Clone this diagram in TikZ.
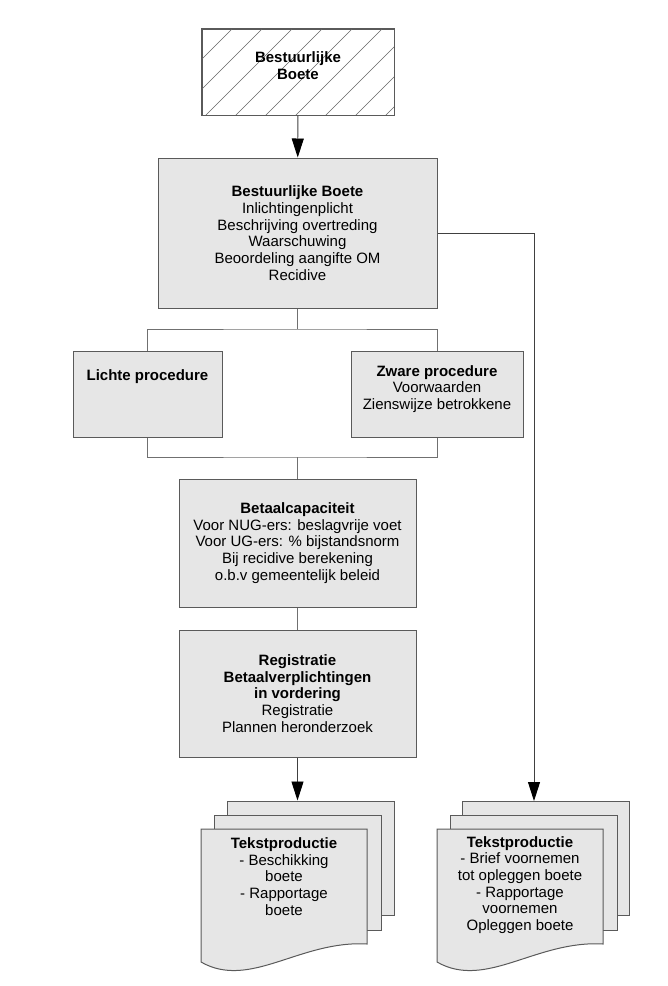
\documentclass[tikz,border=0pt]{standalone}
\usepackage{fontspec}
\setmainfont{Liberation Sans}
\usetikzlibrary{arrows.meta}

\definecolor{boxfill}{HTML}{E6E6E6}
\definecolor{boxline}{HTML}{5A5A5A}
\definecolor{linkline}{HTML}{707070}

\tikzset{
  box/.style={draw=boxline, fill=boxfill, line width=1pt, inner sep=0pt, align=center},
  txt/.style={align=center, inner sep=0pt},
  link/.style={draw=linkline, line width=0.9pt},
  arrow/.style={draw=black!75, line width=0.9pt, -{Triangle[length=19pt,width=12pt,black]}},
  hatch/.style={draw=black!60, line width=0.5pt}
}

\begin{document}
\begin{tikzpicture}[x=1pt,y=-1pt,every node/.style={font=\fontsize{15}{16.7}\selectfont}]
    \useasboundingbox (0,0) rectangle (668,986);

    % top block, hatched
    \node (head) [box, fill=white, minimum width=192, minimum height=86] at (298,72) {};
    \begin{scope}
      \clip (head.south west) rectangle (head.north east);
      \foreach \x in {202,232,...,472}
        \draw[hatch] (\x,29) -- ++(-90,90);
    \end{scope}
    \draw[boxline, line width=1pt] (head.south west) rectangle (head.north east);
    \node (headtext) [txt] at (298,65.5) {\textbf{Bestuurlijke}\\\textbf{Boete}};

    \node (main) [box, minimum width=279, minimum height=150] at (297.5,233)
      {\textbf{Bestuurlijke Boete}\\Inlichtingenplicht\\Beschrijving overtreding\\Waarschuwing\\Beoordeling aangifte OM\\Recidive};

    \node (lichte) [box, minimum width=149, minimum height=86] at (147.5,394) {};
    \node (lichtetext) [txt] at (147.5,377) {\textbf{Lichte procedure}};

    \node (zware) [box, minimum width=172, minimum height=86] at (437,394) {};
    \node (zwaretext) [txt] at (437,389) {\textbf{Zware procedure}\\Voorwaarden\\Zienswijze betrokkene};

    \node (betaal) [box, minimum width=237, minimum height=128] at (297.5,543)
      {\textbf{Betaalcapaciteit}\\Voor NUG-ers: beslagvrije voet\\Voor UG-ers: \% bijstandsnorm\\Bij recidive berekening\\o.b.v gemeentelijk beleid};

    \node (regist) [box, minimum width=237, minimum height=127] at (297.5,693.5)
      {\textbf{Registratie}\\\textbf{Betaalverplichtingen}\\\textbf{in vordering}\\Registratie\\Plannen heronderzoek};

    % document stacks
    \node (docAback) [box, minimum width=167, minimum height=114] at (310.5,858) {};
    \node (docAmid)  [box, minimum width=167, minimum height=115] at (297.5,872.5) {};
    \draw[boxline, fill=boxfill, line width=1pt]
      (201,829) -- (367,829) -- (367,944) .. controls (300,940) and (250,990) .. (201,962) -- cycle;
    \node (docAtext) [txt] at (284,876.5)
      {\textbf{Tekstproductie}\\- Beschikking\\boete\\- Rapportage\\boete};

    \node (docBback) [box, minimum width=167, minimum height=114] at (546,858) {};
    \node (docBmid)  [box, minimum width=167, minimum height=115] at (533.5,872.5) {};
    \draw[boxline, fill=boxfill, line width=1pt]
      (437,829) -- (603,829) -- (603,944) .. controls (536,940) and (486,990) .. (437,962) -- cycle;
    \node (docBtext) [txt] at (520,885)
      {\textbf{Tekstproductie}\\- Brief voornemen\\tot opleggen boete\\- Rapportage\\voornemen\\Opleggen boete};

    % connectors
    \coordinate (split) at (297.5,329);
    \coordinate (join) at (297.5,457);
    \coordinate (docBin) at (534,801);

    \draw[arrow] (head) -- (main);
    \draw[link] (main.south) -- (split);
    \draw[link] (lichte.north) |- (split) -| (zware.north);
    \draw[link] (lichte.south) |- (join) -| (zware.south);
    \draw[link] (join) -- (betaal.north);
    \draw[link] (betaal) -- (regist);
    \draw[arrow] (regist.south) -- (regist.south |- docAback.north);
    \draw[arrow] (main.east) -| (docBin);
\end{tikzpicture}
\end{document}
